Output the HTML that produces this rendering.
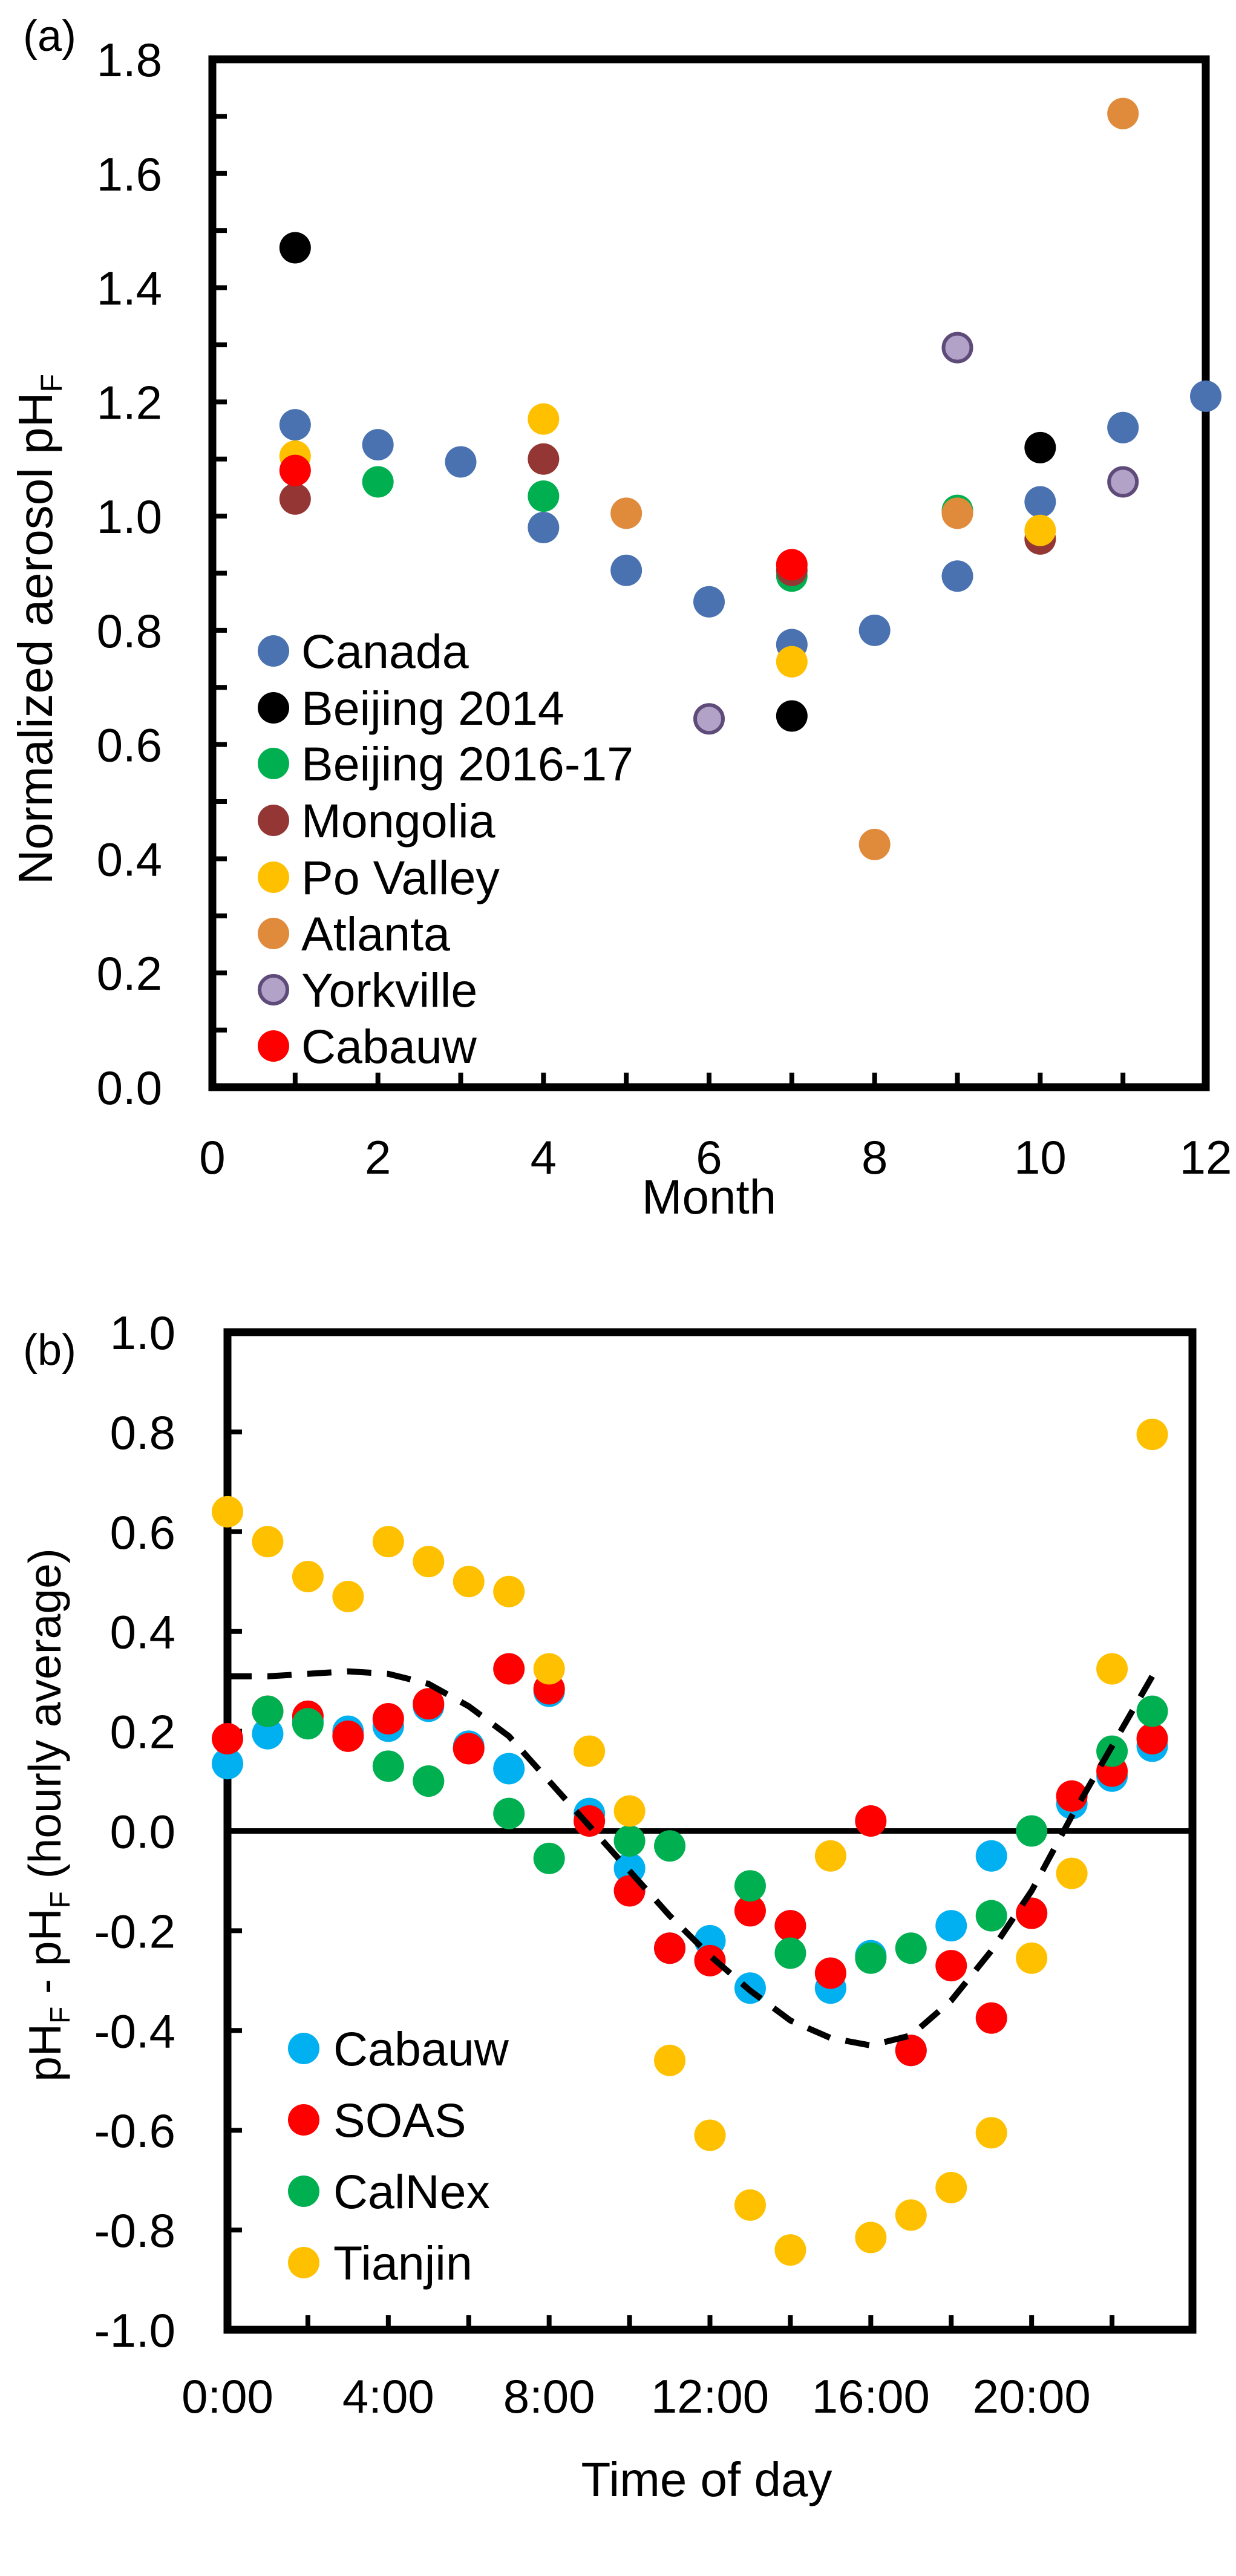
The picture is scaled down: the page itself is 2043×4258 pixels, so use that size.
<!DOCTYPE html>
<html><head><meta charset="utf-8"><style>
html,body{margin:0;padding:0;background:#fff}
svg{display:block;font-family:"Liberation Sans",sans-serif}
</style></head><body>
<svg id="s" width="2043" height="4258" viewBox="0 0 2043 4258" xmlns="http://www.w3.org/2000/svg">
<g id="ga"></g>
<g id="gb"></g>
</svg>
<script>
// ---------- Panel (a) data ----------
const aSeries = ["Canada","Beijing 2014","Beijing 2016-17","Mongolia","Po Valley","Atlanta","Yorkville","Cabauw"];
const aCanadaX = [1,2,3,4,5,6,7,8,9,10,11,12];
const aCanadaY = [1.16,1.125,1.095,0.98,0.905,0.85,0.775,0.80,0.895,1.025,1.155,1.21];
const aBj14X = [1,7,10];
const aBj14Y = [1.47,0.65,1.12];
const aBj16X = [2,4,7,9];
const aBj16Y = [1.06,1.035,0.895,1.01];
const aMongX = [1,4,7,10];
const aMongY = [1.03,1.10,0.905,0.96];
const aPoX = [1,4,7,10];
const aPoY = [1.105,1.17,0.745,0.975];
const aAtlX = [5,8,9,11];
const aAtlY = [1.005,0.425,1.005,1.705];
const aYorkX = [6,9,11];
const aYorkY = [0.645,1.295,1.06];
const aCabX = [1,7];
const aCabY = [1.08,0.915];
const aXTicks = [0,2,4,6,8,10,12];
const aYTicks = ["0.0","0.2","0.4","0.6","0.8","1.0","1.2","1.4","1.6","1.8"];

// ---------- Panel (b) data ----------
const bHours = [0,1,2,3,4,5,6,7,8,9,10,11,12,13,14,15,16,17,18,19,20,21,22,23];
const bCabauw = [0.135,0.195,0.22,0.20,0.21,0.25,0.17,0.125,0.28,0.035,-0.075,-0.235,-0.22,-0.315,-0.19,-0.315,-0.25,-0.44,-0.19,-0.05,-0.165,0.055,0.11,0.17];
const bSOAS = [0.185,0.24,0.23,0.19,0.225,0.255,0.165,0.325,0.285,0.02,-0.12,-0.235,-0.26,-0.16,-0.19,-0.285,0.02,-0.44,-0.27,-0.375,-0.165,0.07,0.12,0.185];
const bCalNex = [null,0.24,0.215,null,0.13,0.10,null,0.035,-0.055,null,-0.02,-0.03,null,-0.11,-0.245,null,-0.255,-0.235,null,-0.17,0.0,null,0.16,0.24];
const bTianjin = [0.64,0.58,0.51,0.47,0.58,0.54,0.50,0.48,0.325,0.16,0.04,-0.46,-0.61,-0.75,-0.84,-0.05,-0.815,-0.77,-0.715,-0.605,-0.255,-0.085,0.325,0.795];
const bAverage = [0.31,0.31,0.315,0.32,0.315,0.295,0.25,0.19,0.10,0.01,-0.08,-0.17,-0.25,-0.32,-0.38,-0.415,-0.43,-0.41,-0.34,-0.24,-0.12,0.03,0.17,0.31];
const bXTicks = ["0:00","4:00","8:00","12:00","16:00","20:00"];
const bYTicks = ["-1.0","-0.8","-0.6","-0.4","-0.2","0.0","0.2","0.4","0.6","0.8","1.0"];

const NS="http://www.w3.org/2000/svg";
function mk(parent,tag,attrs,text){const e=document.createElementNS(NS,tag);for(const k in attrs)e.setAttribute(k,attrs[k]);if(text!==undefined)e.textContent=text;parent.appendChild(e);return e;}

// ---------- Panel (a) ----------
const ga=document.getElementById('ga');
const aL=351,aR=1993,aT=98,aB=1797;
const ax=v=>aL+(aR-aL)*v/12;
const ay=v=>aB-(aB-aT)*v/1.8;
for(let i=1;i<18;i++){const t=mk(ga,'line',{x1:aL,x2:aL+24,y1:ay(i*0.1),y2:ay(i*0.1),stroke:'#000','stroke-width':8});

}
for(let i=1;i<12;i++){const t=mk(ga,'line',{x1:ax(i),x2:ax(i),y1:aB,y2:aB-24,stroke:'#000','stroke-width':8});

}
const fa=mk(ga,'rect',{x:aL,y:aT,width:aR-aL,height:aB-aT,fill:'none',stroke:'#000','stroke-width':13});


aYTicks.forEach(s=>{const t=mk(ga,'text',{x:268,y:ay(parseFloat(s))+28,'font-size':78,'text-anchor':'end'},s);

});
aXTicks.forEach(v=>{const t=mk(ga,'text',{x:ax(v),y:1940,'font-size':78,'text-anchor':'middle'},String(v));

});
let t1=mk(ga,'text',{x:1172,y:2006,'font-size':80,'text-anchor':'middle'},'Month');


let t2=mk(ga,'text',{transform:'translate(86,1040) rotate(-90)','font-size':80,'text-anchor':'middle'});


t2.innerHTML='Normalized aerosol pH<tspan font-size="50" dy="16">F</tspan>';
let t3=mk(ga,'text',{x:38,y:84,'font-size':72},'(a)');


const aStyles=[['#4A72B0','none'],['#000000','none'],['#00B050','none'],['#943634','none'],['#FFC000','none'],['#E08A3C','none'],['#B3A2C7','#5F4B7A'],['#FF0000','none']];
const aX=[aCanadaX,aBj14X,aBj16X,aMongX,aPoX,aAtlX,aYorkX,aCabX];
const aY=[aCanadaY,aBj14Y,aBj16Y,aMongY,aPoY,aAtlY,aYorkY,aCabY];
aX.forEach((xs,si)=>{xs.forEach((xv,i)=>{const c=mk(ga,'circle',{cx:ax(xv),cy:ay(aY[si][i]),r:aStyles[si][1]==='none'?26:23,fill:aStyles[si][0],stroke:aStyles[si][1],'stroke-width':6});

});});
const aLegY=[1076,1170,1262,1356,1450,1543,1636,1729];
aSeries.forEach((n,i)=>{const c=mk(ga,'circle',{cx:452,cy:aLegY[i],r:aStyles[i][1]==='none'?26:23,fill:aStyles[i][0],stroke:aStyles[i][1],'stroke-width':6});


const t=mk(ga,'text',{x:498,y:aLegY[i]+28,'font-size':79},n);

});

// ---------- Panel (b) ----------
const gb=document.getElementById('gb');
const bL=376,bR=1971,bT=2202,bB=3851;
const bx=h=>bL+(bR-bL)*h/24;
const by=v=>bB-(bB-bT)*(v+1)/2;
for(let i=-4;i<=4;i++){const t=mk(gb,'line',{x1:bL,x2:bL+24,y1:by(i*0.2),y2:by(i*0.2),stroke:'#000','stroke-width':8});

}
for(let h=2;h<24;h+=2){const t=mk(gb,'line',{x1:bx(h),x2:bx(h),y1:bB,y2:bB-24,stroke:'#000','stroke-width':8});

}
let zl=mk(gb,'line',{x1:bL,x2:bR,y1:by(0),y2:by(0),stroke:'#000','stroke-width':9});


const fb=mk(gb,'rect',{x:bL,y:bT,width:bR-bL,height:bB-bT,fill:'none',stroke:'#000','stroke-width':13});


bYTicks.forEach(s=>{const t=mk(gb,'text',{x:290,y:by(parseFloat(s))+28,'font-size':78,'text-anchor':'end'},s);

});
bXTicks.forEach((s,i)=>{const t=mk(gb,'text',{x:bx(i*4),y:3988,'font-size':78,'text-anchor':'middle'},s);

});
let u1=mk(gb,'text',{x:1168,y:4126,'font-size':80,'text-anchor':'middle'},'Time of day');


let u2=mk(gb,'text',{transform:'translate(100,3000) rotate(-90)','font-size':75,'text-anchor':'middle'});


u2.innerHTML='pH<tspan font-size="46" dy="15">F</tspan><tspan dy="-15"> - pH</tspan><tspan font-size="46" dy="15">F</tspan><tspan dy="-15"> (hourly average)</tspan>';
let u3=mk(gb,'text',{x:38,y:2256,'font-size':72},'(b)');


const bNames=['Cabauw','SOAS','CalNex','Tianjin'];
const bCols=['#00B0F0','#FF0000','#00B050','#FFC000'];
const bData=[bCabauw,bSOAS,bCalNex,bTianjin];
bData.forEach((arr,si)=>{arr.forEach((v,i)=>{if(v===null)return;const c=mk(gb,'circle',{cx:bx(bHours[i]),cy:by(v),r:26,fill:bCols[si]});

});});
let d='';bAverage.forEach((v,i)=>{d+=(i?'L':'M')+bx(bHours[i])+','+by(v);});
const pl=mk(gb,'path',{d:d,fill:'none',stroke:'#000','stroke-width':10,'stroke-dasharray':'40 26'});


const bLegY=[3386,3504,3622,3740];
bNames.forEach((n,i)=>{const c=mk(gb,'circle',{cx:502,cy:bLegY[i],r:26,fill:bCols[i]});


const t=mk(gb,'text',{x:551,y:bLegY[i]+28,'font-size':79},n);

});
</script>
</body></html>
